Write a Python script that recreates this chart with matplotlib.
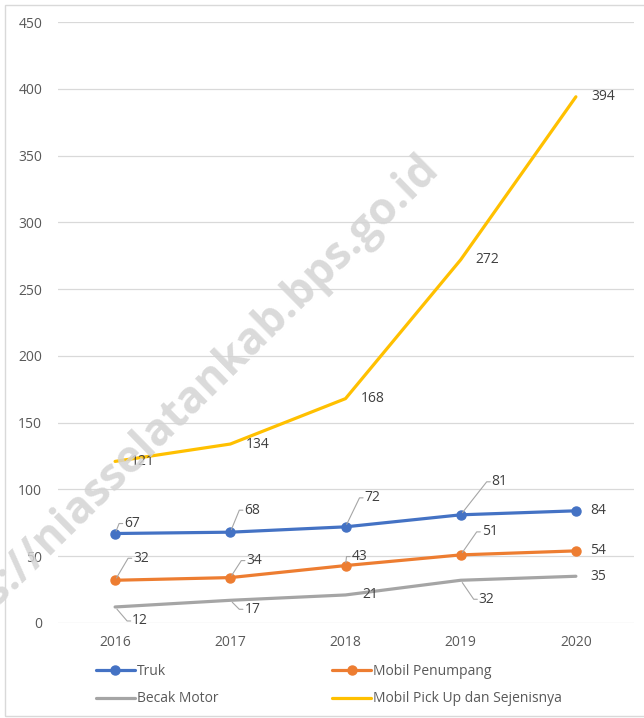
import matplotlib
matplotlib.use("Agg")
import matplotlib.pyplot as plt
from matplotlib.patches import Rectangle

years = ["2016", "2017", "2018", "2019", "2020"]
truk = [67, 68, 72, 81, 84]
mobil_penumpang = [32, 34, 43, 51, 54]
becak_motor = [12, 17, 21, 32, 35]
pick_up = [121, 134, 168, 272, 394]
yticks = [0, 50, 100, 150, 200, 250, 300, 350, 400, 450]

# label offsets in pixels (dx, dy) and whether a leader line is drawn
off_truk = [(17, 10, True), (22, 22, True), (27, 29, True), (39, 33, True), (22, 0, False)]
off_penumpang = [(26, 22, True), (24, 17, True), (14, 9, True), (29, 23, True), (22, 0, False)]
off_becak = [(25, -14, True), (22, -9, True), (25, 0, False), (26, -19, True), (22, 0, False)]
off_pickup = [(24, 0, False), (23, 0, False), (23, 0, False), (23, 0, False), (23, 0, False)]

plt.rcParams['font.family'] = ['Open Sans', 'DejaVu Sans']

fig = plt.figure(figsize=(6.44, 7.18), dpi=100)
ax = fig.add_axes([57.5/644, 1-623/718, 576/644, 601/718])

x = list(range(len(years)))
series = [
    ("Truk", truk, "#4472C4", True, off_truk),
    ("Mobil Penumpang", mobil_penumpang, "#ED7D31", True, off_penumpang),
    ("Becak Motor", becak_motor, "#A5A5A5", False, off_becak),
    ("Mobil Pick Up dan Sejenisnya", pick_up, "#FFC000", False, off_pickup),
]
handles = {}
for name, vals, col, mark, offs in series:
    h, = ax.plot(x, vals, color=col, lw=2.3, marker='o' if mark else None,
                 markersize=6.5, solid_capstyle='round', label=name, zorder=3)
    handles[name] = h
    for xi, v, (dx, dy, lead) in zip(x, vals, offs):
        kw = {}
        if lead:
            kw['arrowprops'] = dict(arrowstyle='-', color='#A6A6A6', lw=0.8,
                                    connectionstyle="arc,angleA=180,armA=5,angleB=0,armB=0,rad=0",
                                    shrinkA=1, shrinkB=2, patchA=None, relpos=(0, 0.5))
        ax.annotate(str(v), xy=(xi, v), xytext=(dx - 8, dy), textcoords='offset pixels',
                    ha='left', va='center', fontsize=10, color='#404040', zorder=4, **kw)

ax.set_xlim(-0.5, 4.5)
ax.set_ylim(0, 450)
ax.set_yticks(yticks)
ax.set_xticks(x)
ax.set_xticklabels(years)
ax.tick_params(axis='both', length=0, labelsize=10, colors='#595959')
ax.tick_params(axis='y', pad=11)
ax.tick_params(axis='x', pad=9)
ax.grid(axis='y', color='#D9D9D9', lw=0.9)
ax.set_axisbelow(True)
for s in ax.spines.values():
    s.set_visible(False)

# watermark
fig.text(440/644, 1-170/718, "https://niasselatankab.bps.go.id", rotation=44.5, fontsize=32,
         fontweight='bold', color='#D4D4D4', alpha=0.85, ha='right', va='baseline',
         rotation_mode='anchor', zorder=0)

order = ["Truk", "Becak Motor", "Mobil Penumpang", "Mobil Pick Up dan Sejenisnya"]
leg = fig.legend([handles[n] for n in order], order, ncol=2, loc='upper left',
                 bbox_to_anchor=(96/644, 1-664/718), frameon=False, fontsize=10,
                 handlelength=2.8, handletextpad=0.15, columnspacing=8.2, labelspacing=0.9,
                 labelcolor='#595959', borderaxespad=0, borderpad=0)
for lh in leg.legend_handles:
    lh.set_markersize(6.5)

fig.patches.append(Rectangle((5/644, 2/718), 1.0, 1-7/718, transform=fig.transFigure,
                             fill=False, edgecolor='#D9D9D9', lw=1.0))

fig.savefig("out.png", dpi=100)
